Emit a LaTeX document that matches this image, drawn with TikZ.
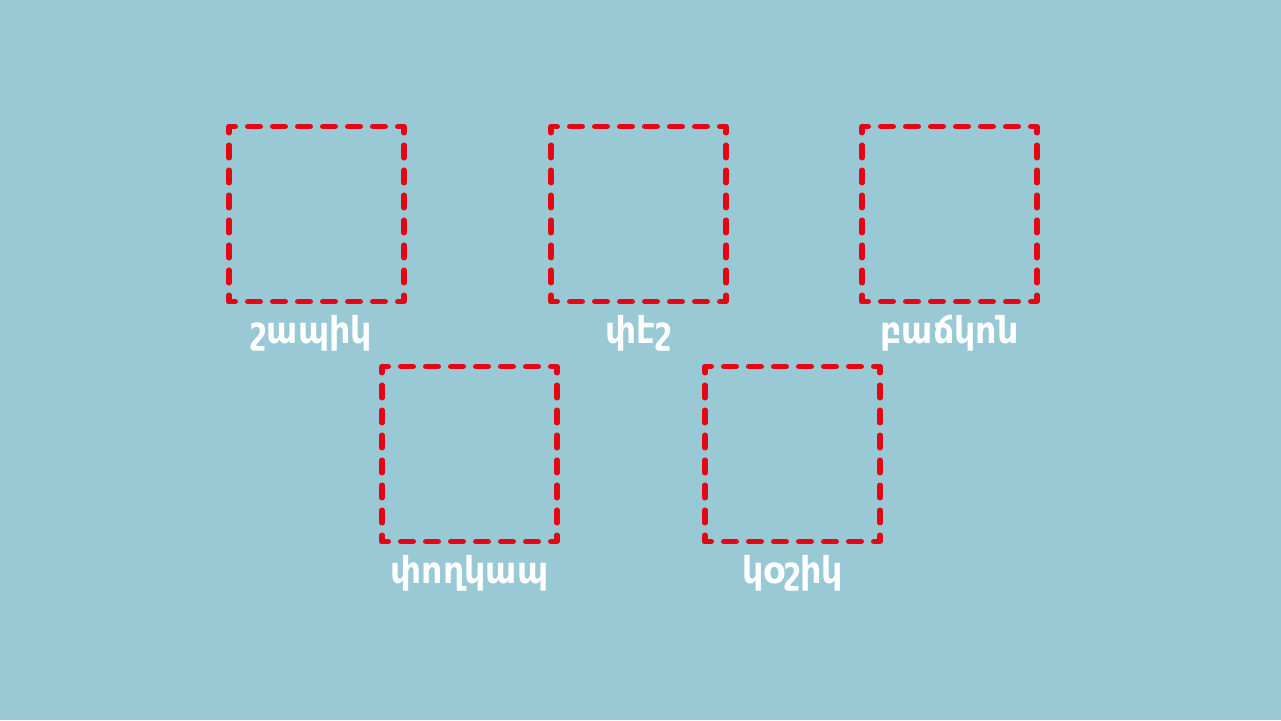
\documentclass[tikz,border=0pt]{standalone}
\usepackage{fontspec}
\setmainfont{DejaVu Sans}
\newfontfamily\armfont[Script=Armenian]{DejaVu Sans Condensed Bold}
\usetikzlibrary{positioning,calc}
\definecolor{bgblue}{HTML}{99C9D4}
\definecolor{boxred}{HTML}{E30613}
\tikzset{
  item/.style={draw=boxred, line width=5.5pt, line cap=round, line join=round,
    dash pattern=on 12.5pt off 12.5pt, dash phase=6.25pt,
    minimum width=175pt, minimum height=175pt, inner sep=0pt, outer sep=0pt},
  word/.style={text=white, font=\armfont\fontsize{37}{42}\selectfont, anchor=base}
}
\begin{document}
\begin{tikzpicture}[x=1pt,y=1pt]
    % Background
    \fill[bgblue] (0,0) rectangle (1281,720);
    \useasboundingbox (0,0) rectangle (1281,720);

    % Top row
    \node[item] (shirt) at (316.5,506) {};
    \node[item] (skirt) at (638.5,506) {};
    \node[item] (jacket) at (949.5,506) {};

    % Bottom row
    \node[item] (tie) at (469.5,266) {};
    \node[item] (shoe) at (792.5,266) {};

    % Add labels
    \node[word] (shirtlbl) at ($(shirt.south)+(-5,-42)$) {շապիկ};
    \node[word] (skirtlbl) at ($(skirt.south)+(0,-42)$) {փէշ};
    \node[word] (jacketlbl) at ($(jacket.south)+(0,-42)$) {բաճկոն};
    \node[word] (tielbl) at ($(tie.south)+(0,-42)$) {փողկապ};
    \node[word] (shoelbl) at ($(shoe.south)+(0,-42)$) {կօշիկ};
\end{tikzpicture}
\end{document}
